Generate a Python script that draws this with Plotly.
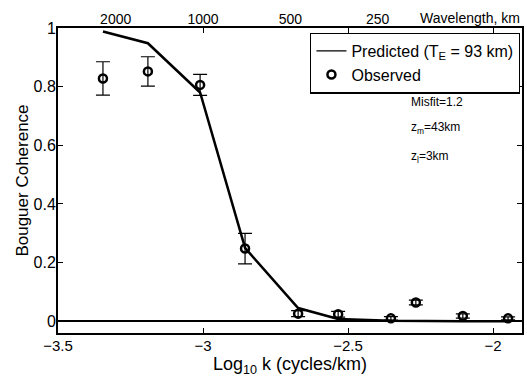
import numpy as np
import plotly.graph_objects as go

log_k = [-3.345, -3.190, -3.010, -2.855, -2.672, -2.534, -2.352, -2.266, -2.104, -1.948]
observed = [0.828, 0.852, 0.806, 0.248, 0.026, 0.024, 0.010, 0.064, 0.018, 0.010]
obs_err = [0.057, 0.050, 0.036, 0.052, 0.010, 0.010, 0.006, 0.008, 0.007, 0.005]
predicted = [0.988, 0.948, 0.780, 0.250, 0.045, 0.008, 0.002, 0.001, 0.0, 0.0]
wavelengths = [2000, 1000, 500, 250]

FONT = "Liberation Sans, Arial, Helvetica, sans-serif"

fig = go.Figure()
fig.add_trace(go.Scatter(
    x=log_k, y=predicted, mode="lines",
    line=dict(color="black", width=2.5),
    name="Predicted (T<sub>E</sub> = 93 km)", showlegend=False,
))
# legend entry with the thin sample line seen in the reference
fig.add_trace(go.Scatter(
    x=[None], y=[None], mode="lines",
    line=dict(color="black", width=1.2),
    name="Predicted (T<sub>E</sub> = 93 km)",
))
fig.add_trace(go.Scatter(
    x=log_k, y=observed, mode="markers",
    marker=dict(symbol="circle-open", size=8, color="black", line=dict(width=2.5)),
    error_y=dict(type="data", array=obs_err, color="black", thickness=1.2, width=7),
    name="Observed",
))
# dummy trace for top axis
fig.add_trace(go.Scatter(x=[-3.5], y=[None], xaxis="x2", showlegend=False, hoverinfo="skip"))

fig.update_layout(
    width=527, height=378,
    margin=dict(l=58, r=5, t=28, b=45, autoexpand=False),
    paper_bgcolor="white", plot_bgcolor="white",
    font=dict(family=FONT, size=15, color="black"),
    showlegend=True,
    legend=dict(
        x=0.996, y=0.985, xanchor="right", yanchor="top",
        bordercolor="black", borderwidth=1.3, bgcolor="white",
        font=dict(size=16), tracegroupgap=0, itemwidth=30,
    ),
    xaxis=dict(
        range=[-3.5, -1.9], tickvals=[-3.5, -3, -2.5, -2],
        ticks="inside", ticklen=5, tickcolor="black", tickwidth=1,
        showline=True, linecolor="black", linewidth=2, mirror="ticks",
        showgrid=False, zeroline=False, automargin=False,
        tickfont=dict(size=15), ticklabelstandoff=-2,
    ),
    xaxis2=dict(
        range=[-3.5, -1.9], overlaying="x", side="top", automargin=False,
        tickvals=[float(np.log10(1.0 / w)) for w in wavelengths],
        ticktext=[str(w) for w in wavelengths],
        ticks="", showgrid=False, zeroline=False, showline=False,
        tickfont=dict(size=14),
    ),
    yaxis=dict(
        range=[-0.04, 1.0], tickvals=[0, 0.2, 0.4, 0.6, 0.8, 1],
        ticks="inside", ticklen=5, tickcolor="black", tickwidth=1,
        showline=True, linecolor="black", linewidth=2, mirror="ticks",
        showgrid=False, zeroline=True, zerolinecolor="black", zerolinewidth=2,
        automargin=False, ticklabelstandoff=-3,
        title=dict(text="Bouguer Coherence", font=dict(size=17), standoff=1),
        tickfont=dict(size=16),
    ),
    annotations=[
        dict(text="Log<sub>10</sub> k (cycles/km)", xref="paper", yref="paper",
             x=0.5, y=-0.062, xanchor="center", yanchor="top", showarrow=False,
             font=dict(size=18)),
        dict(text="Wavelength, km", xref="paper", yref="paper", x=1.0, y=1.0,
             xanchor="right", yanchor="bottom", showarrow=False, font=dict(size=14), yshift=0),
        dict(text="Misfit=1.2", xref="paper", yref="paper", x=0.757, y=0.757,
             xanchor="left", yanchor="middle", showarrow=False, font=dict(size=12)),
        dict(text="z<sub>m</sub>=43km", xref="paper", yref="paper", x=0.757, y=0.672,
             xanchor="left", yanchor="middle", showarrow=False, font=dict(size=12)),
        dict(text="z<sub>l</sub>=3km", xref="paper", yref="paper", x=0.757, y=0.577,
             xanchor="left", yanchor="middle", showarrow=False, font=dict(size=12)),
    ],
)

fig.write_html("out.html")
